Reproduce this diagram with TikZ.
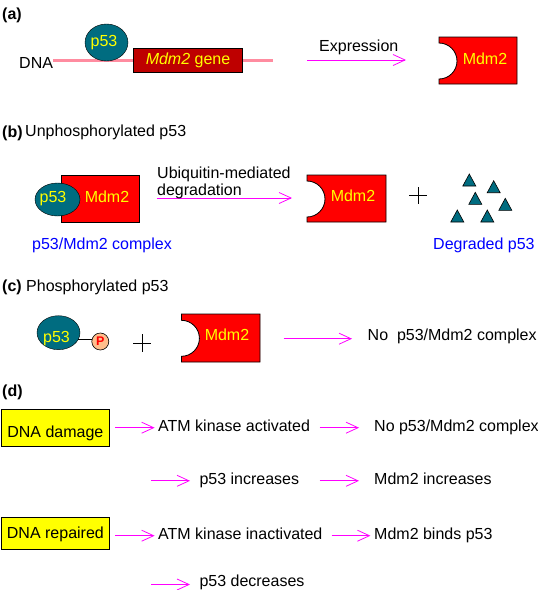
\documentclass[tikz,border=0pt]{standalone}
\usepackage{fontspec}
\setmainfont{Liberation Sans}
\usetikzlibrary{arrows.meta,shapes.geometric,calc}
\definecolor{tealp}{RGB}{0,108,128}
\definecolor{genered}{RGB}{190,0,0}
\definecolor{dnapink}{RGB}{255,140,160}
\definecolor{mdmred}{RGB}{255,0,0}
\definecolor{ylw}{RGB}{255,255,0}
\definecolor{blu}{RGB}{0,0,255}
\definecolor{mag}{RGB}{255,0,255}
\definecolor{peach}{RGB}{255,190,140}
\newcommand\MdmShape[6]{\draw[mdmbody] (#1,-#2) -- (#3,-#2) -- (#3,-#4) -- (#1,-#4) -- (#1,{-#5-#6}) arc[start angle=-90,end angle=90,radius=#6] -- cycle;}
\newcommand\DegTri[2]{\draw[tri] (#1,-#2) ++(-6.5,-6) -- ++(13,0) -- ++(-6.5,12) -- cycle;}
\tikzset{
  txt/.style={font=\fontsize{16}{19}\selectfont, inner sep=0pt, anchor=base west},
  lab/.style={font=\fontsize{16}{19}\selectfont\bfseries, inner sep=0pt, anchor=base west},
  ytxt/.style={font=\fontsize{16}{19}\selectfont, inner sep=0pt, anchor=base, text=ylw},
  btxt/.style={txt, text=blu},
  pball/.style={ellipse, draw=black, fill=tealp, inner sep=0pt},
  mdmbody/.style={draw=black, fill=mdmred, line width=0.8pt},
  tri/.style={draw=black, fill=tealp, line width=0.6pt},
  flow/.style={draw=mag, line width=0.8pt, -{Straight Barb[length=12pt,width=11pt,line width=0.8pt]}},
  ybox/.style={rectangle, draw=black, fill=ylw, line width=0.8pt, minimum width=107pt, inner sep=0pt,
    font=\fontsize{16}{19}\selectfont, text depth=3pt},
  plusline/.style={draw=black, line width=0.8pt},
}
\begin{document}
\begin{tikzpicture}[x=1pt,y=1pt]
\useasboundingbox[fill=white] (0,0) rectangle (538,-590);

% ---------- (a)
\node[lab] (la) at (2,-19) {(a)};
\node[txt] (dna) at (19,-68) {DNA};
\coordinate (dnaL) at (53,-60);
\coordinate (dnaR) at (273,-60);
\draw[dnapink, line width=3pt] (dnaL) -- (dnaR);
\node[rectangle, draw=black, fill=genered, line width=0.8pt, minimum width=109pt, minimum height=24pt,
  inner sep=0pt] (gene) at (187.5,-60) {};
\node[ytxt] (genet) at (188,-64) {\textit{Mdm2} gene};
\node[pball, minimum width=43pt, minimum height=37pt] (p53a) at (106.5,-42.5) {};
\node[ytxt] (p53at) at (104,-46) {p53};
\coordinate (exL) at (307,-60);
\coordinate (exR) at (406,-60);
\draw[flow] (exL) -- (exR);
\node[txt] (expr) at (319,-51) {Expression};
\MdmShape{439}{37}{517}{84}{61}{18}
\node[ytxt] (mdma) at (485,-64) {Mdm2};

% ---------- (b)
\node[lab] (lb) at (2,-137) {(b)};
\node[txt] (unph) at (25,-136) {Unphosphorylated p53};
\node[rectangle, draw=black, fill=mdmred, line width=0.8pt, minimum width=78pt, minimum height=47pt,
  inner sep=0pt] (cmdm) at (100,-198.5) {};
\node[ytxt] (cmdmt) at (107,-202) {Mdm2};
\node[pball, minimum width=45pt, minimum height=33pt] (cp53) at (57.5,-199.5) {};
\node[ytxt] (cp53t) at (53,-202) {p53};
\node[btxt] (cplx) at (32,-249) {p53/Mdm2 complex};
\coordinate (ubL) at (157,-198);
\coordinate (ubR) at (292,-198);
\draw[flow] (ubL) -- (ubR);
\node[txt] (ub1) at (157,-178) {Ubiquitin-mediated};
\node[txt] (ub2) at (157,-195) {degradation};
\MdmShape{307}{175}{386}{222}{199}{18}
\node[ytxt] (mdmb) at (353,-201) {Mdm2};
\draw[plusline] (409,-195) -- (427,-195);
\draw[plusline] (418,-187) -- (418,-204);
\DegTri{469.3}{180}
\DegTri{493.7}{186.7}
\DegTri{475.3}{198.3}
\DegTri{505.3}{204.3}
\DegTri{457.3}{216}
\DegTri{487.3}{216}
\node[btxt] (degr) at (433,-249) {Degraded p53};

% ---------- (c)
\node[lab] (lc) at (2,-291) {(c)};
\node[txt] (phos) at (26,-291) {Phosphorylated p53};
\node[pball, minimum width=43pt, minimum height=34pt] (pp53) at (58.5,-332.7) {};
\node[ytxt] (pp53t) at (56.5,-342) {p53};
\node[circle, draw=black, fill=peach, line width=0.6pt, minimum size=17pt, inner sep=0pt,
  font=\fontsize{12.5}{14}\selectfont\bfseries, text=mdmred] (pP) at (100.3,-341.5) {P};
\draw[black, line width=0.8pt] (pp53.-20) -- (pp53.-20 -| pP.west);
\draw[plusline] (133,-343) -- (151,-343);
\draw[plusline] (142,-334) -- (142,-352);
\MdmShape{181.4}{314}{260}{362}{338.3}{18}
\node[ytxt] (mdmc) at (227,-340.5) {Mdm2};
\coordinate (cL) at (283.5,-338.7);
\coordinate (cR) at (352,-338.7);
\draw[flow] (cL) -- (cR);
\node[txt] (noc) at (367.5,-340.5) {No\ \ p53/Mdm2 complex};

% ---------- (d)
\node[lab] (ld) at (2,-396) {(d)};
\node[ybox, minimum height=37pt, text height=21pt] (dd) at (55.4,-428) {DNA damage};
\node[txt] (atm1) at (158,-431.2) {ATM kinase activated};
\node[txt] (nopc) at (374,-431.2) {No p53/Mdm2 complex};
\node[txt] (p53inc) at (199.3,-484) {p53 increases};
\node[txt] (mdminc) at (374,-484) {Mdm2 increases};
\node[ybox, minimum height=32pt, text height=15pt] (dr) at (55.4,-532.9) {DNA repaired};
\node[txt] (atm2) at (158,-539) {ATM kinase inactivated};
\node[txt] (binds) at (374,-539) {Mdm2 binds p53};
\node[txt] (p53dec) at (199.3,-586) {p53 decreases};

\coordinate (d1a) at (115,-427.7); \coordinate (d1b) at (154.6,-427.7);
\coordinate (d2a) at (319.6,-427.7); \coordinate (d2b) at (359,-427.7);
\coordinate (d3a) at (151,-480.8); \coordinate (d3b) at (190,-480.8);
\coordinate (d4a) at (319.6,-480.8); \coordinate (d4b) at (359,-480.8);
\coordinate (d5a) at (115,-535.7); \coordinate (d5b) at (154.6,-535.7);
\coordinate (d6a) at (331.6,-535.7); \coordinate (d6b) at (370.4,-535.7);
\coordinate (d7a) at (151,-584.5); \coordinate (d7b) at (190,-584.5);
\draw[flow] (d1a) -- (d1b);
\draw[flow] (d2a) -- (d2b);
\draw[flow] (d3a) -- (d3b);
\draw[flow] (d4a) -- (d4b);
\draw[flow] (d5a) -- (d5b);
\draw[flow] (d6a) -- (d6b);
\draw[flow] (d7a) -- (d7b);
\end{tikzpicture}
\end{document}
